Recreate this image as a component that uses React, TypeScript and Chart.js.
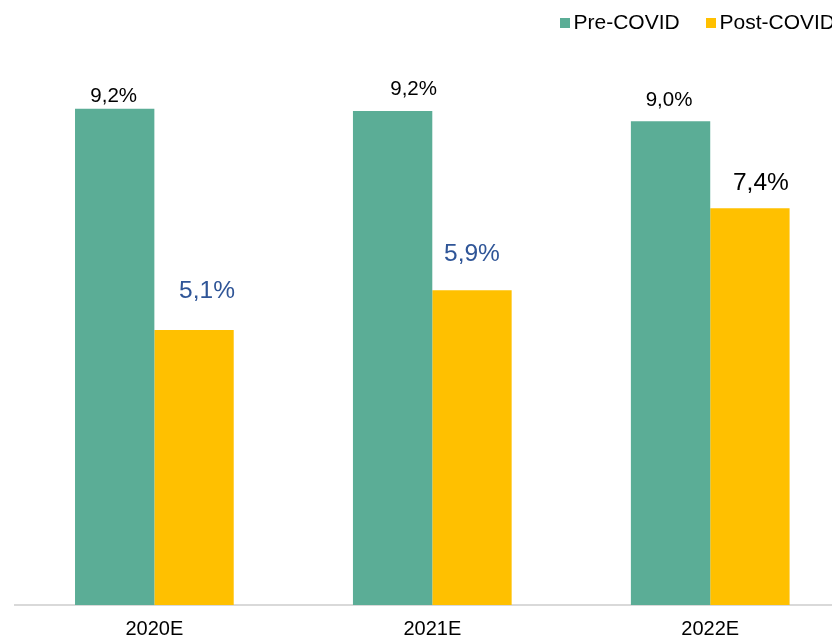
import React, { useEffect, useRef } from "react";
import { Chart, registerables } from "chart.js";

Chart.register(...registerables);

const categories = ["2020E", "2021E", "2022E"];
const seriesNames = ["Pre-COVID", "Post-COVID"];
const preCovid = [9.24, 9.2, 9.01];
const postCovid = [5.12, 5.86, 7.39];

const GREEN = "#5BAD96";
const YELLOW = "#FFC000";
const BLUE = "#2F5597";
const FONT = "'Liberation Sans', Arial, sans-serif";

const fmt = (v: number) => v.toFixed(1).replace(".", ",") + "%";

const labelPlugin = {
  id: "barLabels",
  afterDatasetsDraw(chart: any, _args: any, opts: any) {
    const ctx = chart.ctx;
    chart.data.datasets.forEach((ds: any, di: number) => {
      const meta = chart.getDatasetMeta(di);
      const cfg = opts.sets[di];
      meta.data.forEach((el: any, i: number) => {
        ctx.save();
        ctx.font = `${cfg.size}px ${FONT}`;
        ctx.fillStyle = cfg.colors[i];
        ctx.textAlign = "center";
        ctx.textBaseline = "middle";
        ctx.fillText(fmt(ds.data[i]), el.x + cfg.dx[i], el.y - cfg.dy[i]);
        ctx.restore();
      });
    });
  },
};

const legendPlugin = {
  id: "customLegend",
  afterDraw(chart: any, _args: any, opts: any) {
    const ctx = chart.ctx;
    ctx.save();
    ctx.font = `21px ${FONT}`;
    ctx.textBaseline = "middle";
    ctx.textAlign = "left";
    opts.items.forEach((it: any) => {
      ctx.fillStyle = it.color;
      ctx.fillRect(it.x, 18, 10, 10);
      ctx.fillStyle = "#000";
      ctx.fillText(it.text, it.x + 13.5, 23.5);
    });
    ctx.restore();
  },
};

export default function App() {
  const ref = useRef<HTMLCanvasElement>(null);
  useEffect(() => {
    if (!ref.current) return;
    const chart = new Chart(ref.current, {
      type: "bar",
      data: {
        labels: categories,
        datasets: [
          { label: seriesNames[0], data: preCovid, backgroundColor: GREEN, barPercentage: 1, categoryPercentage: 0.571 },
          { label: seriesNames[1], data: postCovid, backgroundColor: YELLOW, barPercentage: 1, categoryPercentage: 0.571 },
        ],
      },
      options: {
        responsive: false,
        animation: false,
        layout: { padding: { top: 68, left: 15.4, right: 20.8, bottom: 0 } },
        plugins: {
          legend: { display: false },
          tooltip: { enabled: false },
          barLabels: {
            sets: [
              { size: 20.5, colors: ["#000", "#000", "#000"], dx: [-1, 21, -1.5], dy: [12.5, 22, 21] },
              { size: 24.5, colors: [BLUE, BLUE, "#000"], dx: [13, 0, 11], dy: [39, 36, 25] },
            ],
          },
          customLegend: {
            items: [
              { text: seriesNames[0], color: GREEN, x: 560 },
              { text: seriesNames[1], color: YELLOW, x: 706 },
            ],
          },
        } as any,
        scales: {
          x: {
            grid: { display: false, drawTicks: false },
            border: { display: true, color: "#D9D9D9", width: 2 },
            ticks: { color: "#000", font: { family: FONT, size: 20 }, padding: 12 },
            afterFit(scale: any) {
              scale.height = 34;
            },
          },
          y: { display: false, min: 0, max: 10 },
        },
      },
      plugins: [labelPlugin, legendPlugin],
    });
    return () => chart.destroy();
  }, []);
  return (
    <div style={{ position: "fixed", left: 0, top: 0, width: 832, height: 639, overflow: "hidden", background: "#fff" }}>
      <canvas ref={ref} width={870} height={639} style={{ display: "block" }} />
    </div>
  );
}
